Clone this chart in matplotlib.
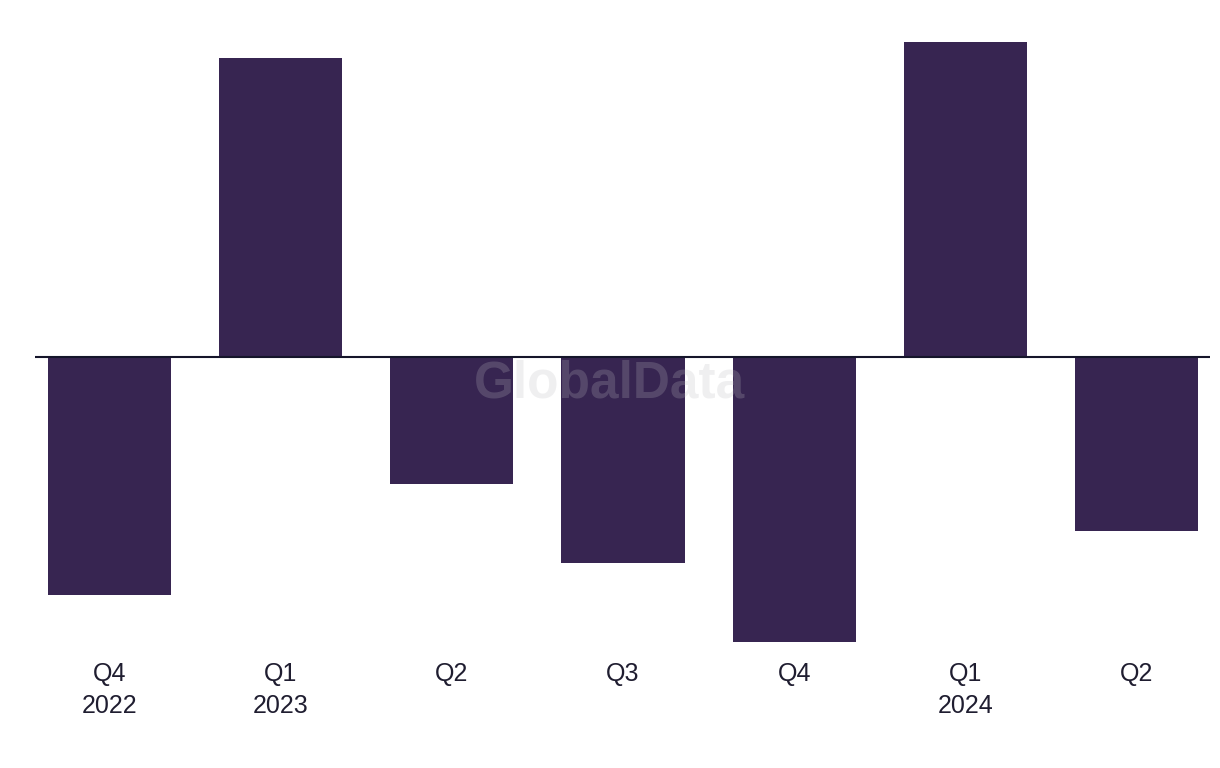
import matplotlib
matplotlib.use("Agg")
import matplotlib.pyplot as plt

categories = ["Q4\n2022", "Q1\n2023", "Q2", "Q3", "Q4", "Q1\n2024", "Q2"]
values = [-238, 299, -127, -206, -285, 315, -174]

bar_color = "#372551"
text_color = "#1f1d30"

fig = plt.figure(figsize=(12.2, 7.68), dpi=100)
W, H = 1220, 768
top_px, bot_px = 30, 650
ax = fig.add_axes([35 / W, 1 - bot_px / H, (1210 - 35) / W, (bot_px - top_px) / H])
x = list(range(len(categories)))
ax.bar(x, values, width=0.72, color=bar_color, zorder=2)
ax.axhline(0, color="#15152a", linewidth=1.5, zorder=3)
ax.set_xlim(-0.436, 6.43)
ax.set_ylim(357 - bot_px, 357 - top_px)
for s in ax.spines.values():
    s.set_visible(False)
ax.set_yticks([])
ax.set_xticks(x)
ax.set_xticklabels(categories, fontsize=18, color=text_color, family="Liberation Sans",
                   linespacing=1.42)
ax.tick_params(axis="x", length=0, pad=9)
ax.xaxis.set_ticks_position("bottom")

fig.text(610 / W, 1 - 384 / H, "GlobalData", ha="center", va="center", fontsize=37,
         fontweight="bold", family="Liberation Sans", color="#bcbcc0", alpha=0.23, zorder=10)

fig.savefig("out.png", dpi=100)
